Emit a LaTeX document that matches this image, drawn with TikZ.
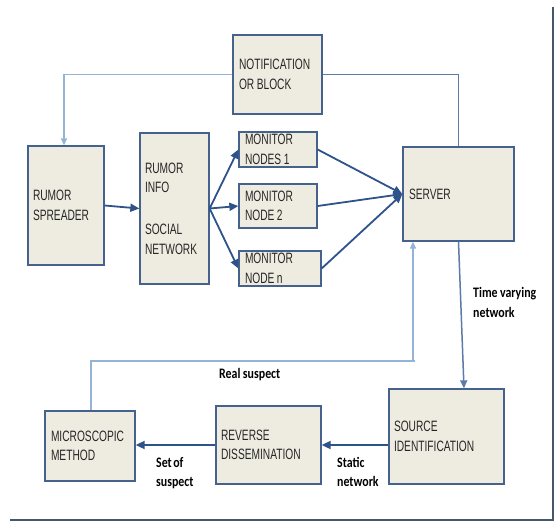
\documentclass[tikz,border=0pt]{standalone}
\usepackage{fontspec}
\setmainfont{Liberation Sans}[FakeStretch=0.68]
\newfontfamily\lblfont{Carlito}[FakeStretch=0.82]
\usetikzlibrary{arrows.meta}
\definecolor{boxfill}{HTML}{EEECE1}
\definecolor{boxline}{HTML}{45628F}
\definecolor{darkarr}{HTML}{2E528A}
\definecolor{lightarr}{HTML}{95B3D7}
\definecolor{midarr}{HTML}{5C7BA6}
\definecolor{framec}{HTML}{46566B}
\definecolor{textc}{HTML}{262626}
\newcommand{\wsp}{\hspace{2.5pt}}
\begin{document}
\begin{tikzpicture}[x=1pt,y=-1pt,
  box/.style={draw=boxline, line width=1.3pt, fill=boxfill, inner xsep=6pt, inner ysep=0pt,
    align=left, text=textc, font=\fontsize{15}{19.5}\selectfont},
  darkline/.style={draw=darkarr, line width=1.8pt},
  darktip/.style={darkline, -{Triangle[length=9pt,width=8pt]}},
  lightline/.style={draw=lightarr, line width=1.5pt},
  lighttip/.style={lightline, -{Triangle[length=7pt,width=6pt]}},
  midline/.style={draw=midarr, line width=1.5pt},
  midtip/.style={midline, -{Triangle[length=8pt,width=7pt]}},
  lbl/.style={anchor=base west, inner sep=0pt, font=\lblfont\bfseries\fontsize{14.5}{19}\selectfont, text=black},
  framel/.style={draw=framec, line width=1.7pt}]
\useasboundingbox (0,0) rectangle (554,522);

% boxes
\node[box, minimum width=89pt, minimum height=79pt, text width=77pt] (notif) at (277.5,74.5) {NOTIFICATION\\OR\wsp BLOCK};
\node[box, minimum width=76pt, minimum height=119pt, text width=66pt, inner xsep=5pt] (spreader) at (66,205.5) {RUMOR\\SPREADER};
\node[box, minimum width=69pt, minimum height=151pt, text width=59pt, inner xsep=5pt] (info) at (174.5,208.5) {RUMOR\\INFO\\[22.5pt]SOCIAL\\NETWORK};
\node[box, minimum width=78pt, minimum height=35pt, text width=66pt] (mon1) at (278,149.5) {MONITOR\\NODES\wsp 1};
\node[box, minimum width=78pt, minimum height=44pt, text width=66pt] (mon2) at (278,206) {MONITOR\\NODE\wsp 2};
\node[box, minimum width=82pt, minimum height=35pt, text width=70pt] (monn) at (280,268.5) {MONITOR\\NODE\wsp n};
\node[box, minimum width=111pt, minimum height=94pt, text width=99pt] (server) at (458.5,194) {SERVER};
\node[box, minimum width=115pt, minimum height=95pt, text width=105pt, inner xsep=5pt] (source) at (446.5,436.5) {SOURCE\\IDENTIFICATION};
\node[box, minimum width=105pt, minimum height=78pt, text width=95pt, inner xsep=5pt] (reverse) at (268.5,445) {REVERSE\\DISSEMINATION};
\node[box, minimum width=90pt, minimum height=70pt, text width=78pt] (micro) at (90,446) {MICROSCOPIC\\METHOD};

% connectors
\draw[lighttip] (notif.west) -| ([xshift=-2pt]spreader.north);
\draw[midline] (notif.east) -| (server.north);
\draw[darktip] (spreader.east) -- (info.west);
\draw[darktip] (info.east) -- (mon1.west);
\draw[darktip] (info.east) -- (mon2.west);
\draw[darktip] (info.east) -- (monn.west);
\draw[darktip] (mon1.east) -- (server.west);
\draw[darktip] (mon2.east) -- (server.west);
\draw[darktip] (monn.east) -- (server.west);
\draw[midtip] (server.south) -- ([xshift=17.5pt]source.north);
\draw[darktip] (source.west |- reverse.east) -- (reverse.east);
\draw[darktip] (reverse.west) -- (reverse.west -| micro.east);
\coordinate (rscorner) at (413,361);
\draw[lightline] ([xshift=1pt]micro.north) |- ([xshift=2pt]rscorner);
\draw[lighttip] (rscorner) -- (rscorner |- server.south);

% labels
\node[lbl] (lreal) at (219,378) {Real\wsp suspect};
\node[lbl] (ltime1) at (473,297) {Time\wsp varying};
\node[lbl] (ltime2) at (473,317) {network};
\node[lbl] (lset1) at (156,467) {Set\hspace{1.5pt}of};
\node[lbl] (lset2) at (156,486) {suspect};
\node[lbl] (lstat1) at (337,467) {Static};
\node[lbl] (lstat2) at (337,486) {network};

% page frame
\coordinate (fr1) at (553,7);
\coordinate (fr2) at (553,520);
\coordinate (fr3) at (10,520);
\draw[framel] (fr1) -- (fr2) -- (fr3);
\end{tikzpicture}
\end{document}
